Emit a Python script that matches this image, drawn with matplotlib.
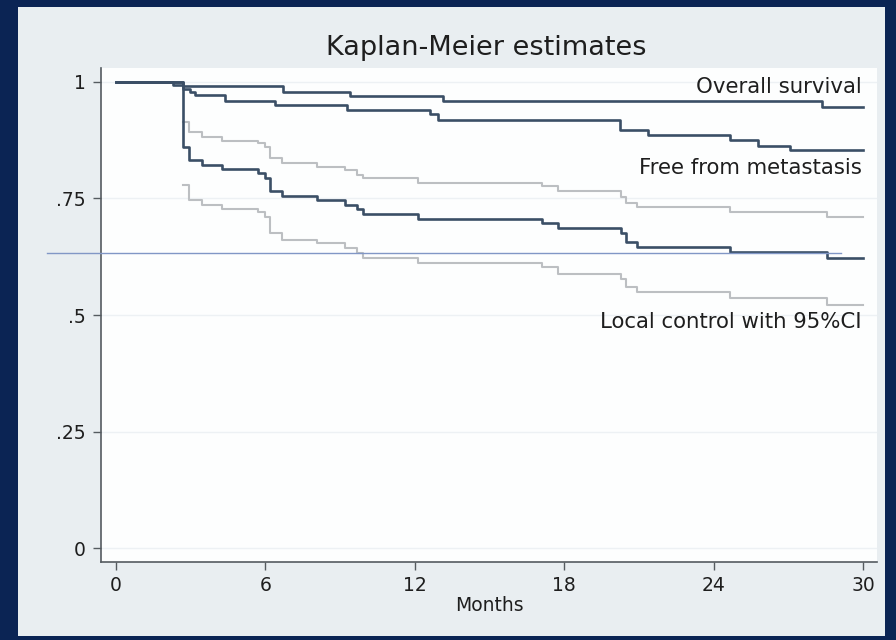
import matplotlib
matplotlib.use("Agg")
import matplotlib.pyplot as plt
from matplotlib.patches import Rectangle

plt.rcParams['font.family'] = ['DejaVu Sans']

# ---- data ----
month_ticks = [0, 6, 12, 18, 24, 30]
y_ticks = [0, 0.25, 0.5, 0.75, 1]
y_tick_labels = ['0', '.25', '.5', '.75', '1']

os_time = [0, 2.69, 6.71, 9.40, 13.13, 28.35, 30]
os_surv = [1, 0.991, 0.979, 0.970, 0.960, 0.947, 0.947]

ffm_time = [0, 2.29, 2.69, 2.97, 3.17, 4.38, 6.39, 9.28, 12.61, 12.93,
            20.24, 21.37, 24.66, 25.78, 27.07, 30]
ffm_surv = [1, 0.994, 0.985, 0.979, 0.972, 0.960, 0.951, 0.940, 0.931, 0.918,
            0.897, 0.886, 0.876, 0.863, 0.853, 0.853]

lc_time = [0, 2.69, 2.94, 3.44, 4.24, 5.71, 5.98, 6.18, 6.65, 8.06, 9.20,
           9.67, 9.91, 12.13, 17.10, 17.76, 20.27, 20.48, 20.94, 24.67, 28.54, 30]
lc_surv = [1, 0.860, 0.833, 0.822, 0.813, 0.804, 0.793, 0.766, 0.755, 0.746,
           0.737, 0.727, 0.717, 0.705, 0.698, 0.686, 0.675, 0.657, 0.646,
           0.636, 0.623, 0.623]

ci_time = [2.69, 2.94, 3.44, 4.24, 5.71, 5.98, 6.18, 6.65, 8.06, 9.20,
           9.67, 9.91, 12.13, 17.10, 17.76, 20.27, 20.48, 20.94, 24.67, 28.54, 30]
lc_upper = [0.915, 0.893, 0.883, 0.874, 0.868, 0.860, 0.836, 0.827, 0.818,
            0.811, 0.800, 0.793, 0.784, 0.777, 0.766, 0.754, 0.740, 0.731,
            0.722, 0.710, 0.710]
lc_lower = [0.779, 0.747, 0.736, 0.727, 0.720, 0.711, 0.675, 0.662, 0.654,
            0.643, 0.634, 0.622, 0.611, 0.602, 0.589, 0.577, 0.561, 0.550,
            0.536, 0.521, 0.521]

ref_level = 0.632
ref_span = [-2.77, 29.1]

label_os = "Overall survival"
label_ffm = "Free from metastasis"
label_lc = "Local control with 95%CI"

# ---- figure ----
W, H = 896, 640
fig = plt.figure(figsize=(W / 100, H / 100), dpi=100)
fig.patch.set_facecolor('#0b2454')
fig.add_artist(Rectangle((18 / W, 1 - 636 / H), (885 - 18) / W, (636 - 7) / H,
                         transform=fig.transFigure, facecolor='#e9eef1',
                         edgecolor='none', zorder=0))

ax = fig.add_axes([101 / W, 1 - 562 / H, (877 - 101) / W, (562 - 68) / H])
ax.set_facecolor('#fdfefe')
ax.set_xlim(-0.60, 30.56)
ax.set_ylim(-0.030, 1.030)

for s in ['top', 'right']:
    ax.spines[s].set_visible(False)
for s in ['left', 'bottom']:
    ax.spines[s].set_color('#555b60')
    ax.spines[s].set_linewidth(1.2)

ax.set_yticks(y_ticks)
ax.set_yticklabels(y_tick_labels)
ax.set_xticks(month_ticks)
ax.tick_params(axis='both', colors='#555b60', labelcolor='#1e1e1e',
               labelsize=13.5, length=6, width=1.0)
ax.tick_params(axis='y', pad=5)
ax.tick_params(axis='x', pad=4)

for yv in y_ticks:
    ax.axhline(yv, color='#edf1f4', lw=1.0, zorder=1)

dark = '#3b4f66'
light = '#bcbfc2'
ax.step(ci_time, lc_upper, where='post', color=light, lw=1.5, zorder=2)
ax.step(ci_time, lc_lower, where='post', color=light, lw=1.5, zorder=2)
ax.step(os_time, os_surv, where='post', color=dark, lw=1.9, zorder=3)
ax.step(ffm_time, ffm_surv, where='post', color=dark, lw=1.9, zorder=3)
ax.step(lc_time, lc_surv, where='post', color=dark, lw=1.9, zorder=3)

ax.plot(ref_span, [ref_level, ref_level], color='#8197c6', lw=1.0,
        clip_on=False, zorder=4)

txt_kw = dict(ha='right', va='center', fontsize=15.3, color='#1e1e1e')
ax.text(29.95, 0.989, label_os, **txt_kw)
ax.text(29.95, 0.815, label_ffm, **txt_kw)
ax.text(29.95, 0.485, label_lc, **txt_kw)

ax.set_xlabel('Months', fontsize=13.5, color='#1e1e1e', labelpad=1)
fig.text(486 / W, 1 - 48 / H, 'Kaplan-Meier estimates', ha='center',
         va='center', fontsize=19.5, color='#1e1e1e')

fig.savefig('out.png', dpi=100, facecolor=fig.get_facecolor())
